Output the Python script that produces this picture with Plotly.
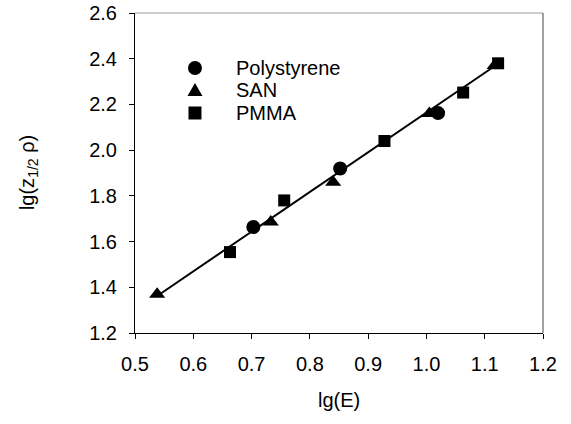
import plotly.graph_objects as go

ps_x = [0.703, 0.852, 1.020]
ps_y = [1.664, 1.920, 2.162]
san_x = [0.538, 0.733, 0.840, 1.005, 1.117]
san_y = [1.370, 1.686, 1.860, 2.160, 2.370]
pmma_x = [0.663, 0.756, 0.928, 1.063, 1.123]
pmma_y = [1.554, 1.780, 2.040, 2.252, 2.380]
fit_x = [0.538, 1.123]
fit_y = [1.362, 2.378]
legend_names = ["Polystyrene", "SAN", "PMMA"]

font = "Liberation Sans, Arial, sans-serif"
fig = go.Figure()
fig.add_trace(go.Scatter(x=fit_x, y=fit_y, mode="lines", line=dict(color="black", width=2),
                         showlegend=False))
fig.add_trace(go.Scatter(x=ps_x, y=ps_y, mode="markers", name=legend_names[0],
                         marker=dict(symbol="circle", size=14, color="black")))
fig.add_trace(go.Scatter(x=san_x, y=san_y, mode="markers", name=legend_names[1],
                         marker=dict(symbol="triangle-up", size=14, color="black")))
fig.add_trace(go.Scatter(x=pmma_x, y=pmma_y, mode="markers", name=legend_names[2],
                         marker=dict(symbol="square", size=12, color="black")))

# manual legend (layout positions in paper coords)
leg_mx = 0.147
leg_tx = 0.243
leg_y = [0.828, 0.759, 0.6875]
shapes = [
    dict(type="line", xref="paper", yref="paper", x0=0, x1=1, y0=1, y1=1,
         line=dict(color="#999999", width=1)),
    dict(type="line", xref="paper", yref="paper", x0=1, x1=1, y0=0, y1=1,
         line=dict(color="#444444", width=1)),
    dict(type="circle", xref="paper", yref="paper", xsizemode="pixel", ysizemode="pixel",
         xanchor=leg_mx, yanchor=leg_y[0], x0=-7, x1=7, y0=-7, y1=7,
         fillcolor="black", line=dict(width=0)),
    dict(type="path", xref="paper", yref="paper", xsizemode="pixel", ysizemode="pixel",
         xanchor=leg_mx, yanchor=leg_y[1], path="M -7.5,-6 L 7.5,-6 L 0,7 Z",
         fillcolor="black", line=dict(width=0)),
    dict(type="rect", xref="paper", yref="paper", xsizemode="pixel", ysizemode="pixel",
         xanchor=leg_mx, yanchor=leg_y[2], x0=-6.5, x1=6.5, y0=-6.5, y1=6.5,
         fillcolor="black", line=dict(width=0)),
]
annotations = [
    dict(text=n, xref="paper", yref="paper", x=leg_tx, y=yy, xanchor="left", yanchor="middle",
         showarrow=False, font=dict(family=font, size=20, color="black"))
    for n, yy in zip(legend_names, leg_y)
]
annotations += [
    dict(text="lg(E)", xref="paper", yref="paper", x=0.5, y=-0.209, xanchor="center",
         yanchor="middle", showarrow=False, font=dict(family=font, size=20, color="black")),
    dict(text="lg(z<sub>1/2</sub> ρ)", xref="paper", yref="paper", x=-0.262, y=0.5,
         xanchor="center", yanchor="middle", textangle=-90, showarrow=False,
         font=dict(family=font, size=20, color="black")),
]

fig.update_layout(
    width=571, height=424,
    margin=dict(l=135, r=28, t=13, b=91),
    paper_bgcolor="white", plot_bgcolor="white",
    font=dict(family=font, size=20, color="black"),
    showlegend=False,
    xaxis=dict(range=[0.5, 1.2], dtick=0.1, tickformat=".1f", showgrid=False, zeroline=False,
               showline=True, linecolor="black", linewidth=1, ticks="outside", ticklen=5,
               tickcolor="black", tickfont=dict(family=font, size=20), ticklabelstandoff=8,
               automargin=False),
    yaxis=dict(range=[1.2, 2.6], dtick=0.2, tickformat=".1f", showgrid=False, zeroline=False,
               showline=True, linecolor="black", linewidth=1, ticks="outside", ticklen=5,
               tickcolor="black", tickfont=dict(family=font, size=20), ticklabelstandoff=8,
               automargin=False),
    shapes=shapes,
    annotations=annotations,
)
fig.write_html("out.html", config={"displayModeBar": False},
               post_script="document.body.style.margin='0';")
